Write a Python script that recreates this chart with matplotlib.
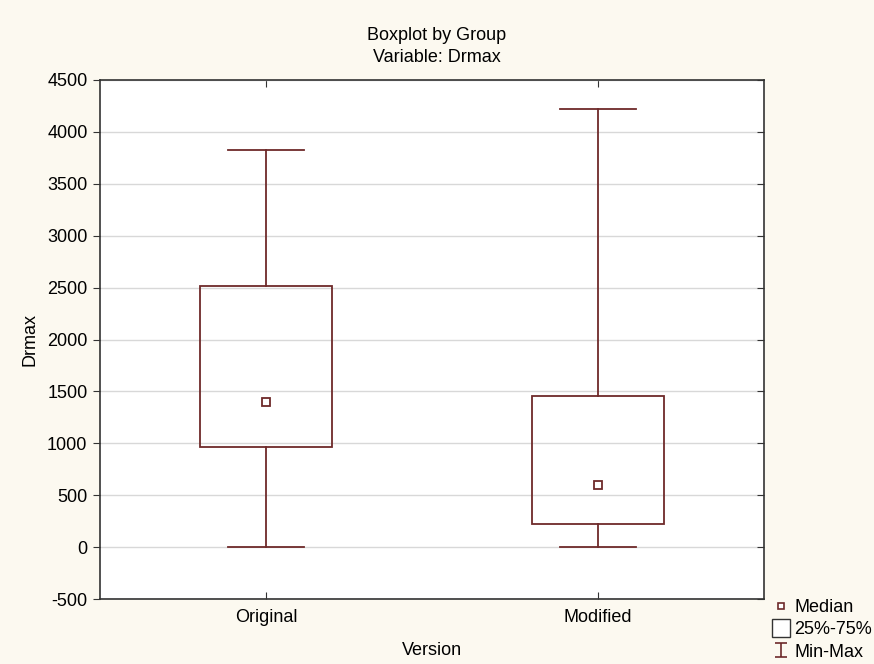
import numpy as np
import matplotlib.pyplot as plt
from matplotlib.lines import Line2D
from matplotlib.path import Path
from matplotlib.patches import Rectangle

plt.rcParams['font.family'] = ['Liberation Sans', 'DejaVu Sans']
plt.rcParams['axes.unicode_minus'] = False

# --- Data: min, Q1, median, Q3, max per version ---
versions = ['Original', 'Modified']
mins = [0, 0]
q1 = [960, 225]
medians = [1400, 600]
q3 = [2520, 1460]
maxs = [3830, 4225]

yticks = list(range(-500, 5000, 500))

box_col = '#6e2a2a'
bg_col = '#fcf9f0'
fs = 13

fig = plt.figure(figsize=(8.74, 6.64), dpi=100, facecolor=bg_col)
ax = fig.add_axes([100 / 874, 1 - 599 / 664, 664 / 874, 519 / 664])
ax.set_facecolor('white')

pos = np.arange(1, len(versions) + 1)
box_w = 0.4
cap_w = 0.23
for x, lo, a, m, b, hi in zip(pos, mins, q1, medians, q3, maxs):
    ax.add_patch(Rectangle((x - box_w / 2, a), box_w, b - a, fill=False,
                           edgecolor=box_col, linewidth=1.3, zorder=3))
    ax.plot([x, x], [b, hi], color=box_col, lw=1.3, zorder=3)
    ax.plot([x, x], [lo, a], color=box_col, lw=1.3, zorder=3)
    ax.plot([x - cap_w / 2, x + cap_w / 2], [hi, hi], color=box_col, lw=1.3, zorder=3)
    ax.plot([x - cap_w / 2, x + cap_w / 2], [lo, lo], color=box_col, lw=1.3, zorder=3)
    ax.plot(x, m, marker='s', ms=6, mfc='white', mec=box_col, mew=1.3, zorder=4)

ax.set_xlim(0.5, 2.5)
ax.set_ylim(-500, 4500)
ax.set_yticks(yticks)
ax.set_xticks(pos)
ax.set_xticklabels(versions)
ax.grid(axis='y', color='#d8d8d8', lw=1)
ax.set_axisbelow(True)
for sp in ax.spines.values():
    sp.set_color('#333333')
    sp.set_linewidth(1.2)

ax.tick_params(axis='x', direction='in', top=True, length=5, labelsize=fs, pad=7)
ax.tick_params(axis='y', direction='out', length=5, labelsize=fs, pad=4)
ax.tick_params(which='both', color='#333333')

ax.set_xlabel('Version', fontsize=fs, labelpad=12)
ax.set_ylabel('Drmax', fontsize=fs, labelpad=6)

# inward ticks on the right spine
ax2 = ax.twinx()
ax2.set_ylim(ax.get_ylim())
ax2.set_yticks(yticks)
ax2.tick_params(axis='y', direction='in', length=5, labelright=False, color='#333333')
for sp in ax2.spines.values():
    sp.set_visible(False)

fig.text(0.5, 1 - 35 / 664, 'Boxplot by Group', ha='center', va='center', fontsize=fs)
fig.text(0.5, 1 - 58 / 664, 'Variable: Drmax', ha='center', va='center', fontsize=fs)

# legend key below the plot on the right
ibeam = Path([(-0.85, 1), (0.85, 1), (0, 1), (0, -1), (-0.85, -1), (0.85, -1)],
             [Path.MOVETO, Path.LINETO, Path.MOVETO, Path.LINETO, Path.MOVETO, Path.LINETO])
handles = [
    Line2D([], [], ls='none', marker='s', ms=5, mfc='white', mec=box_col, mew=1.2),
    Line2D([], [], ls='none', marker='s', ms=13, mfc='white', mec='#333333', mew=1),
    Line2D([], [], ls='none', marker=ibeam, ms=10.5, mec=box_col, mew=1.2),
]
fig.legend(handles, ['Median', '25%-75%', 'Min-Max'], loc='lower right',
           bbox_to_anchor=(1.012, -0.014), frameon=False, fontsize=fs,
           handlelength=0.8, handletextpad=0.3, labelspacing=0.3,
           borderpad=0.2)

fig.savefig('out.png', dpi=100, facecolor=bg_col)
